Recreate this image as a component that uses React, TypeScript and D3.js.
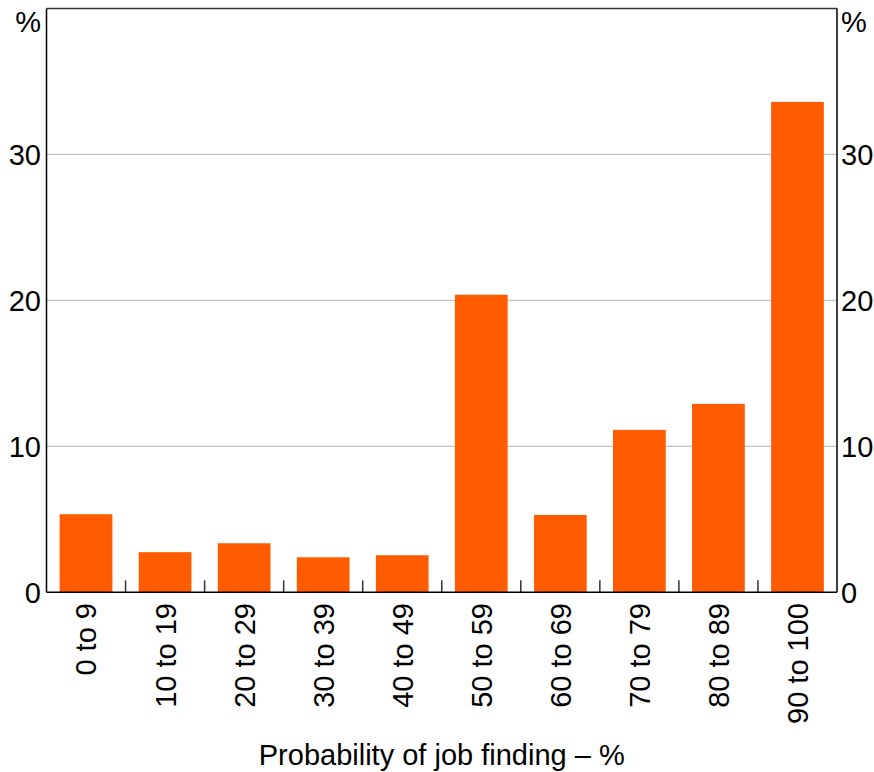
import React from "react";
import * as d3 from "d3";

const categories = ["0 to 9", "10 to 19", "20 to 29", "30 to 39", "40 to 49", "50 to 59", "60 to 69", "70 to 79", "80 to 89", "90 to 100"];
const values = [5.35, 2.75, 3.36, 2.4, 2.54, 20.39, 5.3, 11.13, 12.91, 33.6];
const yTicks = [0, 10, 20, 30];
const xTitle = "Probability of job finding – %";
const unit = "%";

const W = 874;
const H = 772;
const M = { left: 46.5, right: 37, top: 8.5, bottom: 180 };
const FONT = "'Liberation Sans', Arial, sans-serif";
const BAR = "#FF5B00";
const FS = 29;

export default function App() {
  const x = d3.scaleBand<string>().domain(categories).range([M.left, W - M.right]).paddingInner(0.333).paddingOuter(0.1665);
  const y = d3.scaleLinear().domain([0, 40]).range([592.3, M.top]);
  const x0 = M.left;
  const x1 = W - M.right;
  const step = (x1 - x0) / categories.length;
  const bounds = d3.range(1, categories.length).map((i) => x0 + i * step);

  return (
    <svg width={W} height={H} style={{ position: "absolute", left: 0, top: 0, background: "#fff" }} fontFamily={FONT}>
      {yTicks.filter((t) => t > 0).map((t) => (
        <line key={"g" + t} x1={x0} x2={x1} y1={y(t)} y2={y(t)} stroke="#c4c4c4" strokeWidth={1.3} />
      ))}
      {categories.map((c, i) => (
        <rect key={c} x={x(c)} y={y(values[i])} width={x.bandwidth()} height={y(0) - y(values[i])} fill={BAR} />
      ))}
      {bounds.map((b, i) => (
        <line key={"t" + i} x1={b} x2={b} y1={y(0)} y2={y(0) - 12} stroke="#333" strokeWidth={1.5} />
      ))}
      <line x1={x0} x2={x1} y1={M.top} y2={M.top} stroke="#333" strokeWidth={1.5} />
      <line x1={x0} x2={x0} y1={M.top} y2={y(0)} stroke="#000" strokeWidth={1.5} />
      <line x1={x1} x2={x1} y1={M.top} y2={y(0)} stroke="#000" strokeWidth={1.5} />
      <line x1={x0} x2={x1} y1={y(0)} y2={y(0)} stroke="#000" strokeWidth={1.5} />
      {yTicks.map((t) => (
        <g key={"l" + t} fontSize={FS} fill="#000">
          <text x={41} y={y(t)} textAnchor="end" dy="0.36em">{t}</text>
          <text x={841} y={y(t)} textAnchor="start" dy="0.36em">{t}</text>
        </g>
      ))}
      <text x={41} y={32} fontSize={FS} textAnchor="end">{unit}</text>
      <text x={841} y={32} fontSize={FS} textAnchor="start">{unit}</text>
      {categories.map((c) => (
        <text
          key={"c" + c}
          transform={`translate(${(x(c) as number) + x.bandwidth() / 2},603) rotate(-90)`}
          textAnchor="end"
          dy="0.36em"
          fontSize={FS}
        >
          {c}
        </text>
      ))}
      <text x={(x0 + x1) / 2} y={765} textAnchor="middle" fontSize={FS}>{xTitle}</text>
    </svg>
  );
}
